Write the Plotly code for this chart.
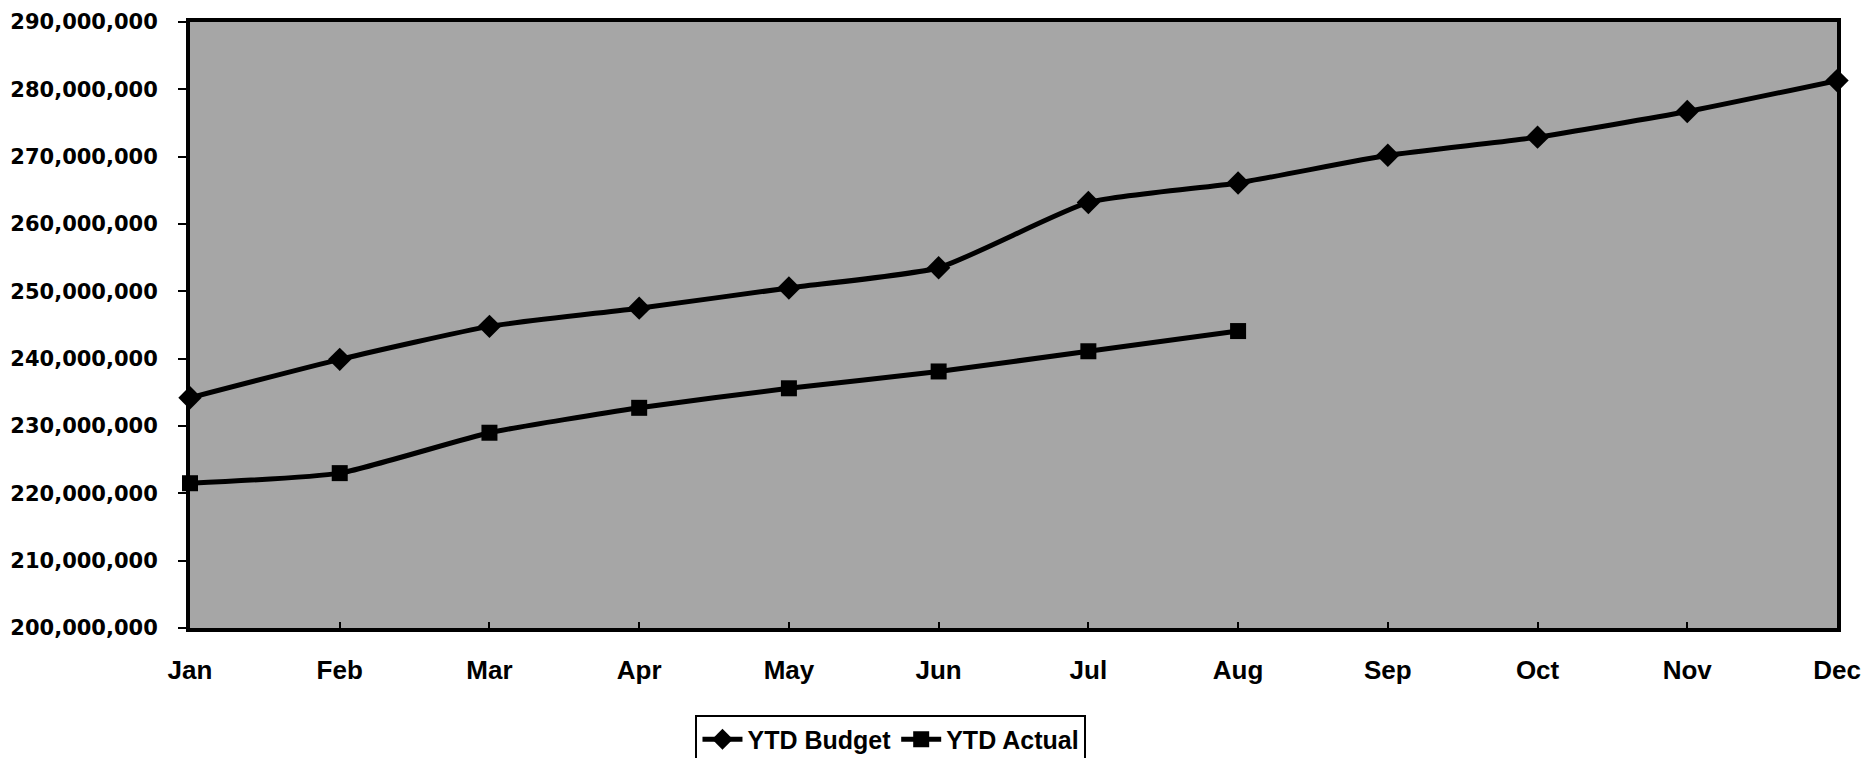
import plotly.graph_objects as go

months = ["Jan", "Feb", "Mar", "Apr", "May", "Jun", "Jul", "Aug", "Sep", "Oct", "Nov", "Dec"]
ytd_budget = [234.2e6, 239.9e6, 244.8e6, 247.5e6, 250.5e6, 253.5e6, 263.2e6, 266.1e6, 270.2e6, 272.9e6, 276.7e6, 281.3e6]
ytd_actual = [221.5e6, 223.0e6, 229.0e6, 232.7e6, 235.6e6, 238.1e6, 241.1e6, 244.1e6]
y_ticks = list(range(200_000_000, 290_000_001, 10_000_000))

fig = go.Figure()
fig.add_trace(go.Scatter(
    x=months, y=ytd_budget, name="YTD Budget", mode="lines+markers",
    line=dict(color="black", width=5, shape="spline", smoothing=0.5),
    marker=dict(symbol="diamond", size=18, color="black"),
    cliponaxis=False,
))
fig.add_trace(go.Scatter(
    x=months[:len(ytd_actual)], y=ytd_actual, name="YTD Actual", mode="lines+markers",
    line=dict(color="black", width=5, shape="spline", smoothing=0.5),
    marker=dict(symbol="square", size=16, color="black"),
    cliponaxis=False,
))

fig.update_layout(
    width=1864, height=750,
    margin=dict(l=182, r=35, t=14, b=130, autoexpand=False),
    paper_bgcolor="white",
    plot_bgcolor="#a6a6a6",
    showlegend=True,
    legend=dict(
        orientation="h", xref="container", yref="container",
        x=0.4737, xanchor="center", y=0.058, yanchor="top",
        bordercolor="black", borderwidth=2, bgcolor="white",
        font=dict(family="Liberation Sans, Arial", size=25, color="black", weight="bold"),
        itemwidth=40,
    ),
)
fig.update_xaxes(
    type="category", categoryorder="array", categoryarray=months,
    range=[0, 11], showgrid=False, zeroline=False,
    showline=True, linecolor="black", linewidth=4, mirror=True,
    ticks="inside", ticklen=6, tickwidth=2, tickcolor="black",
    tickfont=dict(family="Liberation Sans, Arial", size=26, color="black", weight="bold"),
    ticklabelstandoff=16,
)
fig.update_yaxes(
    range=[200_000_000, 290_000_000], tickvals=y_ticks, tickformat=",d",
    showgrid=False, zeroline=False,
    showline=True, linecolor="black", linewidth=4, mirror=True,
    ticks="outside", ticklen=8, tickwidth=2, tickcolor="black",
    tickfont=dict(family="DejaVu Sans", size=21, color="black", weight="bold"),
    ticklabelstandoff=16,
)

fig.write_html("out.html")
